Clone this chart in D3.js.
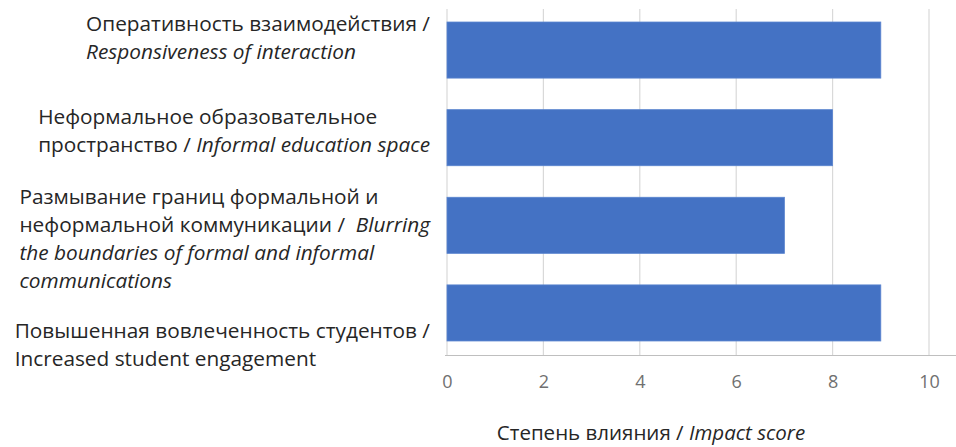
<!DOCTYPE html>
<html>
<head>
<meta charset="utf-8">
<script src="https://cdn.jsdelivr.net/npm/d3@7"></script>
<style>
  html, body { margin: 0; padding: 0; background: #fff; }
  svg { display: block; font-family: "Open Sans", "Noto Sans", sans-serif; }
</style>
</head>
<body>
<svg id="chart" width="956" height="447"></svg>
<script>
// Factors and their impact scores (top to bottom)
const categories = [
  "Оперативность взаимодействия",
  "Неформальное образовательное пространство",
  "Размывание границ формальной и неформальной коммуникации",
  "Повышенная вовлеченность студентов"
];
const scores = [9, 8, 7, 9];
const xTicks = [0, 2, 4, 6, 8, 10];

// Wrapped label lines: [text, italic]
const labelLines = [
  [[["Оперативность взаимодействия /", false]],
   [["Responsiveness of interaction", true]]],
  [[["Неформальное образовательное", false]],
   [["пространство / ", false], ["Informal education space", true]]],
  [[["Размывание границ формальной и", false]],
   [["неформальной коммуникации /  ", false], ["Blurring", true]],
   [["the boundaries of formal and informal", true]],
   [["communications", true]]],
  [[["Повышенная вовлеченность студентов /", false]],
   [["Increased student engagement", false]]]
];
const axisTitle = [["Степень влияния / ", false], ["Impact score", true]];

const svg = d3.select("#chart");
const plotLeft = 447, plotRight = 929, plotTop = 8, plotBottom = 355;

const x = d3.scaleLinear().domain([0, 10]).range([plotLeft, plotRight]);
const y = d3.scaleBand().domain(categories).range([plotTop, plotBottom])
  .paddingInner(0.36).paddingOuter(0.16);

// vertical gridlines
svg.append("g").selectAll("line").data(xTicks).join("line")
  .attr("x1", d => x(d)).attr("x2", d => x(d))
  .attr("y1", 9).attr("y2", plotBottom)
  .attr("stroke", "#d9d9d9").attr("stroke-width", 1.2);

// bars
svg.append("g").selectAll("rect").data(categories).join("rect")
  .attr("x", x(0))
  .attr("y", d => y(d))
  .attr("width", (d, i) => x(scores[i]) - x(0))
  .attr("height", y.bandwidth())
  .attr("fill", "#4472C4")
  .attr("stroke", "#5a84cf").attr("stroke-width", 0.8);

// x axis line
svg.append("line")
  .attr("x1", plotLeft - 2).attr("x2", 956)
  .attr("y1", plotBottom + 0.5).attr("y2", plotBottom + 0.5)
  .attr("stroke", "#bfbfbf").attr("stroke-width", 1.2);

// tick labels
const xAxis = d3.axisBottom(x).tickValues(xTicks).tickSize(0).tickPadding(0);
const gx = svg.append("g").attr("transform", `translate(0,${plotBottom})`).call(xAxis);
gx.select(".domain").remove();
gx.selectAll("text")
  .attr("y", 33).attr("dy", 0)
  .style("font-size", "18px")
  .style("font-family", "'Open Sans', 'Noto Sans', sans-serif")
  .attr("fill", "#707070");

// category labels: block left-aligned, first baseline offset from bar centre
const firstBaseline = [-19.5, -14, -21, 25.5];
const lineGap = 28;
const labelFont = 20.8;
const labelRight = 430;
categories.forEach((c, i) => {
  const g = svg.append("g");
  const cy = y(c) + y.bandwidth() / 2;
  const texts = labelLines[i].map((runs, j) => {
    const t = g.append("text")
      .attr("y", cy + firstBaseline[i] + j * lineGap)
      .attr("fill", "#262626")
      .style("font-size", labelFont + "px")
      .attr("xml:space", "preserve");
    runs.forEach(([s, it]) => {
      t.append("tspan").text(s).style("font-style", it ? "italic" : "normal");
    });
    return t;
  });
  const w = d3.max(texts, t => t.node().getComputedTextLength());
  texts.forEach(t => t.attr("x", labelRight - w));
});

// axis title
const tt = svg.append("text")
  .attr("x", 651).attr("y", 440)
  .attr("text-anchor", "middle")
  .attr("fill", "#262626")
  .style("font-size", "20.5px")
  .attr("xml:space", "preserve");
axisTitle.forEach(([s, it]) => tt.append("tspan").text(s).style("font-style", it ? "italic" : "normal"));
</script>
</body>
</html>
